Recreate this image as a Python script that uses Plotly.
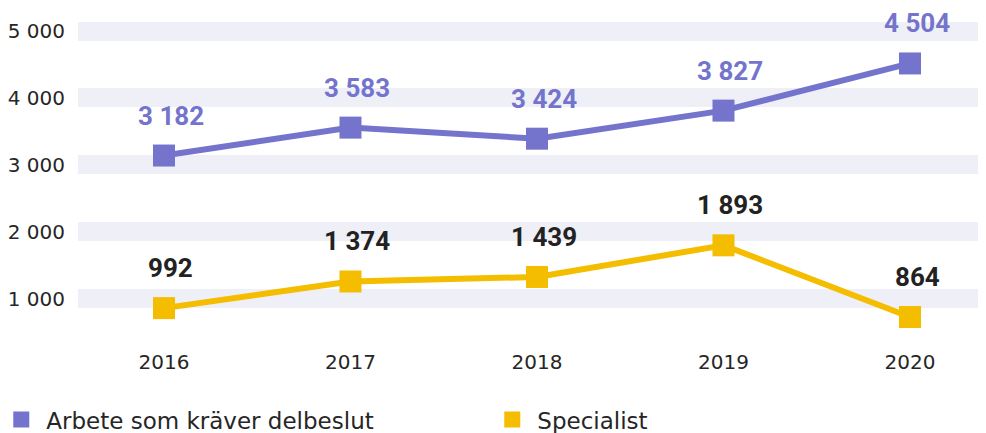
import plotly.graph_objects as go

years = [2016, 2017, 2018, 2019, 2020]
delbeslut = [3182, 3583, 3424, 3827, 4504]
specialist = [992, 1374, 1439, 1893, 864]
band_ticks = [1000, 2000, 3000, 4000, 5000]

purple = '#7474CC'
yellow = '#F4BD00'
band_color = '#EFEFF8'
text_color = '#262626'


def fmt(v):
    return f"{v:,}".replace(",", " ")


fig = go.Figure()

# data lines (drawn on the overlay axis, hidden)
fig.add_trace(go.Scatter(x=years, y=delbeslut, mode='lines+markers', yaxis='y2',
                         line=dict(color=purple, width=6),
                         marker=dict(symbol='square', size=22, color=purple),
                         showlegend=False, hoverinfo='skip'))
fig.add_trace(go.Scatter(x=years, y=specialist, mode='lines+markers', yaxis='y2',
                         line=dict(color=yellow, width=6),
                         marker=dict(symbol='square', size=22, color=yellow),
                         showlegend=False, hoverinfo='skip'))

# legend entries: squares only
fig.add_trace(go.Scatter(x=[None], y=[None], mode='markers', name='Arbete som kräver delbeslut',
                         marker=dict(symbol='square', size=22, color=purple)))
fig.add_trace(go.Scatter(x=[None], y=[None], mode='markers', name='Specialist',
                         marker=dict(symbol='square', size=22, color=yellow)))

annotations = []
for x, v in zip(years, delbeslut):
    annotations.append(dict(x=x, y=v, xref='x', yref='y2', text=fmt(v), showarrow=False,
                            xshift=7, yshift=40,
                            font=dict(family='Roboto', size=26, color=purple, weight='bold')))
for x, v in zip(years, specialist):
    annotations.append(dict(x=x, y=v, xref='x', yref='y2', text=fmt(v), showarrow=False,
                            xshift=7, yshift=40,
                            font=dict(family='Roboto', size=26, color='#222222', weight='bold')))

# the page body adds an 8px margin, so the figure is 8px smaller than the window
fig.update_layout(
    width=978, height=425,
    margin=dict(l=70, r=0, t=0, b=93, autoexpand=False),
    paper_bgcolor='white', plot_bgcolor='white',
    separators=', ',
    font=dict(family='DejaVu Sans', size=20, color=text_color),
    xaxis=dict(range=[2015.539, 2020.4075], tickvals=years, ticktext=[str(y) for y in years],
               showgrid=False, zeroline=False, showline=False, ticks='outside', ticklen=4,
               tickcolor='white', tickfont=dict(size=20, color=text_color)),
    yaxis=dict(range=[380, 5344], tickvals=band_ticks, tickformat=',d',
               showgrid=True, gridcolor=band_color, gridwidth=19, zeroline=False, showline=False,
               ticks='outside', ticklen=8, tickcolor='white',
               tickfont=dict(size=20, color=text_color)),
    yaxis2=dict(range=[534, 5300], overlaying='y', visible=False),
    annotations=annotations,
    legend=dict(orientation='h', x=-0.09, xanchor='left', y=-0.175, yanchor='top',
                entrywidth=436, itemwidth=40, font=dict(size=23, color=text_color),
                itemclick=False, itemdoubleclick=False),
)

fig.write_html("out.html")
